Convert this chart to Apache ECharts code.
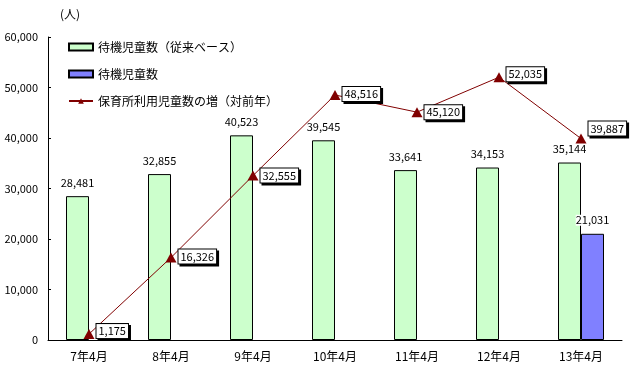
<!DOCTYPE html>
<html><head><meta charset="utf-8">
<script src="https://cdn.jsdelivr.net/npm/echarts@6/dist/echarts.min.js"></script>
<style>html,body{margin:0;padding:0;background:#fff}#c{width:632px;height:371px}</style>
</head><body><div id="c"></div>
<script>
var categories = ['7年4月','8年4月','9年4月','10年4月','11年4月','12年4月','13年4月'];
var waitingOld = [28481, 32855, 40523, 39545, 33641, 34153, 35144];
var waitingNew = [null, null, null, null, null, null, 21031];
var increase = [1175, 16326, 32555, 48516, 45120, 52035, 39887];
var yTicks = [0, 10000, 20000, 30000, 40000, 50000, 60000];
var legendNames = ['待機児童数（従来ベース）', '待機児童数', '保育所利用児童数の増（対前年）'];

var font = '"Noto Sans CJK JP", sans-serif';
function fmt(v){ return v.toLocaleString('en-US'); }
var lineLabelOffsets = [[0,-3],[0,-1],[0,0],[0,-1],[0,0],[0,-3],[0,-10]];

var chart = echarts.init(document.getElementById('c'));
chart.setOption({
  animation: false,
  textStyle: { fontFamily: font },
  title: { text: '(人)', left: 55, top: 3, textStyle: { fontSize: 12, fontWeight: 'normal', color: '#000', fontFamily: font } },
  grid: { left: 48, right: 10, top: 37, bottom: 31 },
  legend: {
    orient: 'vertical', left: 63, top: 36, itemGap: 15, itemWidth: 24, itemHeight: 7,
    textStyle: { fontSize: 12, color: '#000', fontFamily: font },
    data: [
      { name: legendNames[0], icon: 'rect' },
      { name: legendNames[1], icon: 'rect' },
      { name: legendNames[2] }
    ]
  },
  xAxis: {
    type: 'category', data: categories,
    axisLine: { lineStyle: { color: '#000', width: 1 } },
    axisTick: { inside: true, length: 3, lineStyle: { color: '#000' } },
    axisLabel: { color: '#000', fontSize: 12, margin: 10, fontFamily: font },
    splitLine: { show: false }
  },
  yAxis: {
    type: 'value', min: 0, max: 60000, interval: 10000,
    axisLine: { show: true, lineStyle: { color: '#000', width: 1 } },
    axisTick: { show: true, inside: true, length: 3, lineStyle: { color: '#000' } },
    axisLabel: { color: '#000', fontSize: 11, margin: 10, fontFamily: font,
      formatter: function(v){ return yTicks.indexOf(v) >= 0 ? fmt(v) : ''; } },
    splitLine: { show: false }
  },
  series: [
    {
      name: legendNames[0], type: 'bar', data: waitingOld, barWidth: 23, barGap: '0%',
      itemStyle: { color: '#CCFFCC', borderColor: '#000', borderWidth: 1 },
      label: { show: true, position: 'top', distance: 8, color: '#000', fontSize: 11, fontFamily: font,
        formatter: function(p){ return fmt(p.value); } }
    },
    {
      name: legendNames[1], type: 'bar', data: waitingNew, barWidth: 23,
      itemStyle: { color: '#8080FF', borderColor: '#000', borderWidth: 1 },
      label: { show: true, position: 'top', distance: 8, color: '#000', fontSize: 11, fontFamily: font,
        backgroundColor: '#fff',
        formatter: function(p){ return p.value == null ? '' : fmt(p.value); } }
    },
    {
      name: legendNames[2], type: 'line', data: increase.map(function(v, i){
        return { value: v, label: { offset: lineLabelOffsets[i] } };
      }),
      symbol: 'triangle', symbolSize: [11, 10],
      lineStyle: { color: '#800000', width: 1 },
      itemStyle: { color: '#800000' },
      z: 5,
      label: { show: true, position: 'right', distance: 2, color: '#000', fontSize: 11, fontFamily: font,
        backgroundColor: '#fff', borderColor: '#000', borderWidth: 1, padding: [2, 2, 1, 2],
        shadowColor: '#000', shadowOffsetX: 2, shadowOffsetY: 2, shadowBlur: 0,
        formatter: function(p){ return fmt(p.value); } }
    }
  ]
});
</script></body></html>
